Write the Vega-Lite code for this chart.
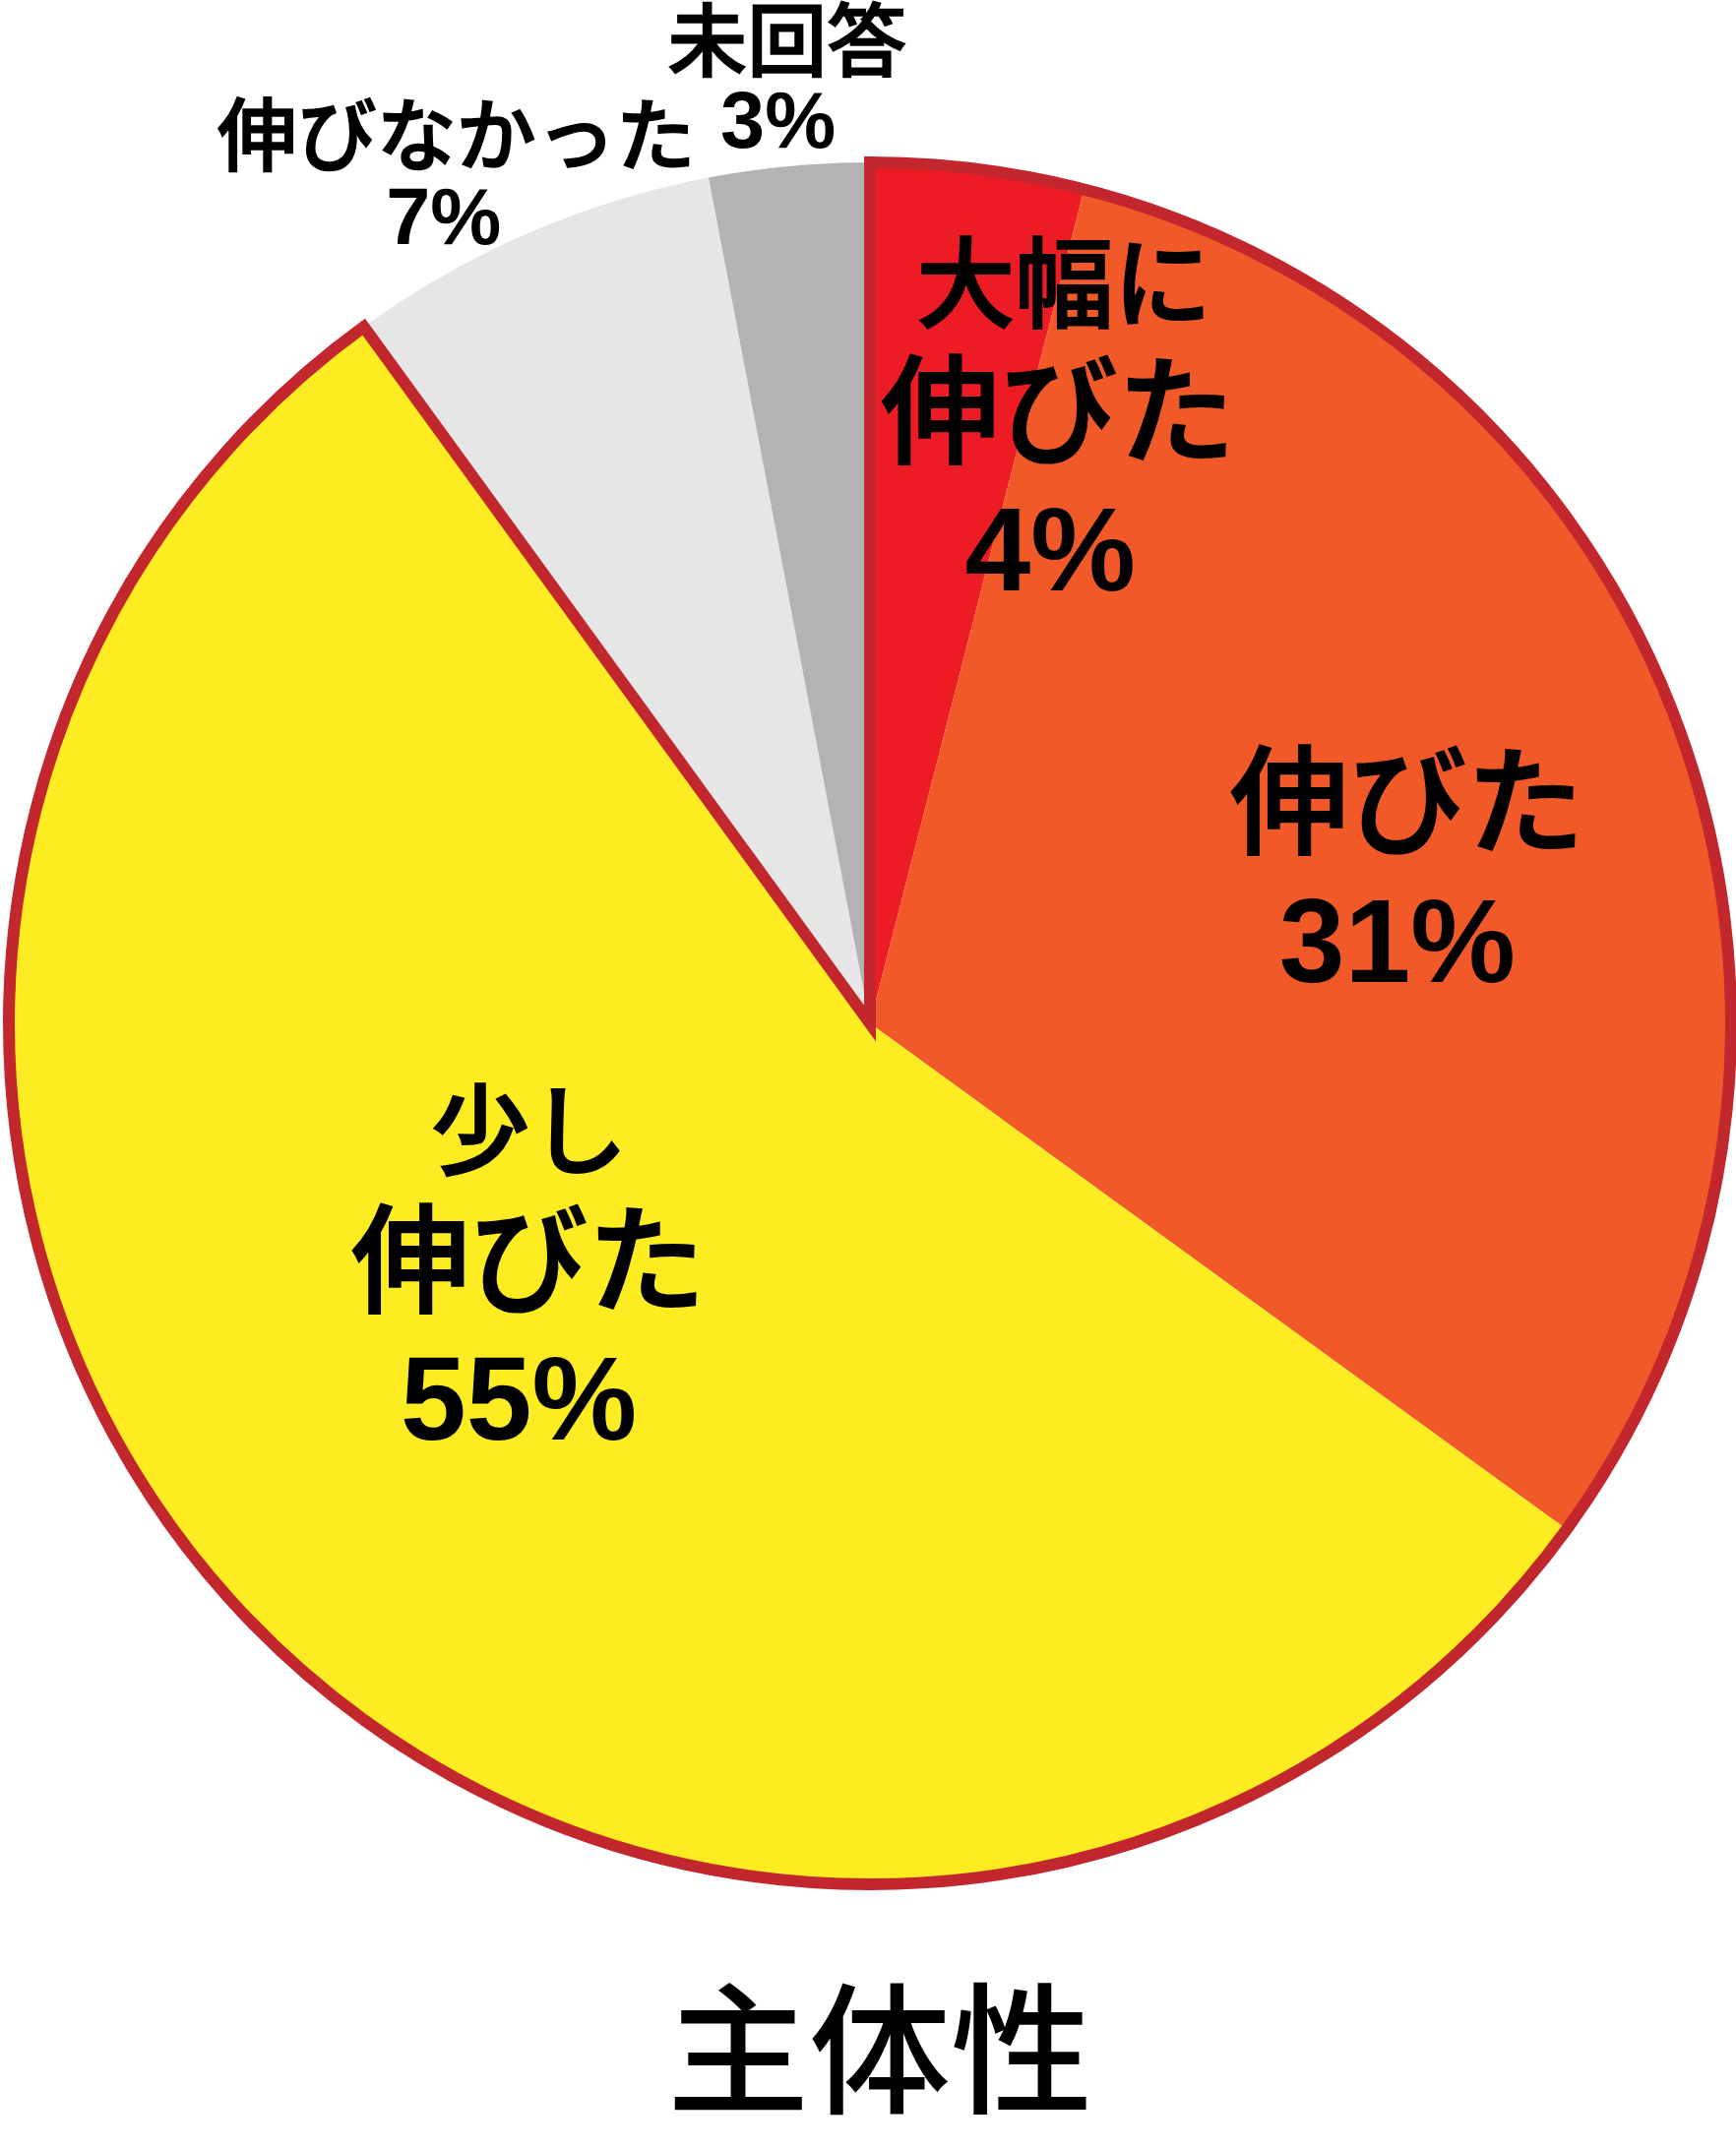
{
  "$schema": "https://vega.github.io/schema/vega-lite/v6.json",
  "width": 1760,
  "height": 2080,
  "padding": {"left": 4, "top": 0, "right": 0, "bottom": 104},
  "autosize": {"type": "none"},
  "background": "white",
  "config": {
    "view": {"stroke": null},
    "text": {"align": "center", "baseline": "middle", "color": "black"}
  },
  "title": {
    "text": "主体性",
    "orient": "bottom",
    "frame": "group",
    "anchor": "middle",
    "offset": 57,
    "baseline": "alphabetic",
    "dx": 10,
    "fontSize": 144,
    "font": "Noto Sans CJK JP",
    "fontWeight": 500,
    "color": "black"
  },
  "data": {
    "values": [
      {"cat": "大幅に伸びた", "value": 4, "rank": 1, "grp": "伸びた計", "head": "大幅に", "mid": "伸びた", "pct": "4%"},
      {"cat": "伸びた", "value": 31, "rank": 2, "grp": "伸びた計", "head": "", "mid": "伸びた", "pct": "31%"},
      {"cat": "少し伸びた", "value": 55, "rank": 3, "grp": "伸びた計", "head": "少し", "mid": "伸びた", "pct": "55%"},
      {"cat": "伸びなかった", "value": 7, "rank": 4, "grp": "その他", "head": "", "mid": "伸びなかった", "pct": "7%"},
      {"cat": "未回答", "value": 3, "rank": 5, "grp": "その他", "head": "", "mid": "未回答", "pct": "3%"}
    ]
  },
  "encoding": {
    "theta": {"field": "value", "type": "quantitative", "stack": true},
    "order": {"field": "rank", "type": "quantitative"}
  },
  "layer": [
    {
      "mark": {"type": "arc", "radius": 875},
      "encoding": {
        "color": {
          "field": "cat",
          "type": "nominal",
          "scale": {
            "domain": ["大幅に伸びた", "伸びた", "少し伸びた", "伸びなかった", "未回答"],
            "range": ["#ED1C24", "#F15A28", "#FCEC21", "#E6E6E6", "#B3B3B3"]
          },
          "legend": null
        }
      }
    },
    {
      "transform": [
        {
          "aggregate": [
            {"op": "sum", "field": "value", "as": "value"},
            {"op": "min", "field": "rank", "as": "rank"}
          ],
          "groupby": ["grp"]
        }
      ],
      "mark": {"type": "arc", "radius": 875, "fill": "transparent", "strokeWidth": 12, "strokeJoin": "miter", "strokeMiterLimit": 10},
      "encoding": {
        "stroke": {
          "condition": {"test": "datum.grp === '伸びた計'", "value": "#C1272D"},
          "value": "transparent"
        }
      }
    },
    {
      "mark": {"type": "text", "radius": 600, "dx": 122, "dy": -150, "fontSize": 100, "font": "Noto Sans CJK JP", "fontWeight": 500, "stroke": "black", "strokeWidth": 2},
      "encoding": {"text": {"condition": {"test": "datum.cat === '大幅に伸びた'", "field": "head"}, "value": ""}}
    },
    {
      "mark": {"type": "text", "radius": 600, "dx": 116, "dy": -19, "fontSize": 120, "font": "Noto Sans CJK JP", "fontWeight": 500, "stroke": "black", "strokeWidth": 2},
      "encoding": {"text": {"condition": {"test": "datum.cat === '大幅に伸びた'", "field": "mid"}, "value": ""}}
    },
    {
      "mark": {"type": "text", "radius": 600, "dx": 108, "dy": 119, "fontSize": 120, "font": "Liberation Sans", "fontWeight": "bold"},
      "encoding": {"text": {"condition": {"test": "datum.cat === '大幅に伸びた'", "field": "pct"}, "value": ""}}
    },
    {
      "mark": {"type": "text", "radius": 560, "dx": 19, "dy": -27, "fontSize": 120, "font": "Noto Sans CJK JP", "fontWeight": 500, "stroke": "black", "strokeWidth": 2},
      "encoding": {"text": {"condition": {"test": "datum.cat === '伸びた'", "field": "mid"}, "value": ""}}
    },
    {
      "mark": {"type": "text", "radius": 560, "dx": 9, "dy": 112, "fontSize": 120, "font": "Liberation Sans", "fontWeight": "bold"},
      "encoding": {"text": {"condition": {"test": "datum.cat === '伸びた'", "field": "pct"}, "value": ""}}
    },
    {
      "mark": {"type": "text", "radius": 420, "dx": -49, "dy": -181, "fontSize": 100, "font": "Noto Sans CJK JP", "fontWeight": 500, "stroke": "black", "strokeWidth": 2},
      "encoding": {"text": {"condition": {"test": "datum.cat === '少し伸びた'", "field": "head"}, "value": ""}}
    },
    {
      "mark": {"type": "text", "radius": 420, "dx": -50, "dy": -48, "fontSize": 120, "font": "Noto Sans CJK JP", "fontWeight": 500, "stroke": "black", "strokeWidth": 2},
      "encoding": {"text": {"condition": {"test": "datum.cat === '少し伸びた'", "field": "mid"}, "value": ""}}
    },
    {
      "mark": {"type": "text", "radius": 420, "dx": -60, "dy": 90, "fontSize": 120, "font": "Liberation Sans", "fontWeight": "bold"},
      "encoding": {"text": {"condition": {"test": "datum.cat === '少し伸びた'", "field": "pct"}, "value": ""}}
    },
    {
      "mark": {"type": "text", "radius": 960, "dx": -39, "dy": -16, "fontSize": 81, "font": "Noto Sans CJK JP", "fontWeight": 500, "stroke": "black", "strokeWidth": 1.5},
      "encoding": {"text": {"condition": {"test": "datum.cat === '伸びなかった'", "field": "mid"}, "value": ""}}
    },
    {
      "mark": {"type": "text", "radius": 960, "dx": -52, "dy": 65, "fontSize": 81, "font": "Liberation Sans", "fontWeight": "bold"},
      "encoding": {"text": {"condition": {"test": "datum.cat === '伸びなかった'", "field": "pct"}, "value": ""}}
    },
    {
      "mark": {"type": "text", "radius": 960, "dx": 6, "dy": -37, "fontSize": 81, "font": "Noto Sans CJK JP", "fontWeight": 500, "stroke": "black", "strokeWidth": 1.5},
      "encoding": {"text": {"condition": {"test": "datum.cat === '未回答'", "field": "mid"}, "value": ""}}
    },
    {
      "mark": {"type": "text", "radius": 960, "dx": -3, "dy": 42, "fontSize": 81, "font": "Liberation Sans", "fontWeight": "bold"},
      "encoding": {"text": {"condition": {"test": "datum.cat === '未回答'", "field": "pct"}, "value": ""}}
    }
  ]
}
